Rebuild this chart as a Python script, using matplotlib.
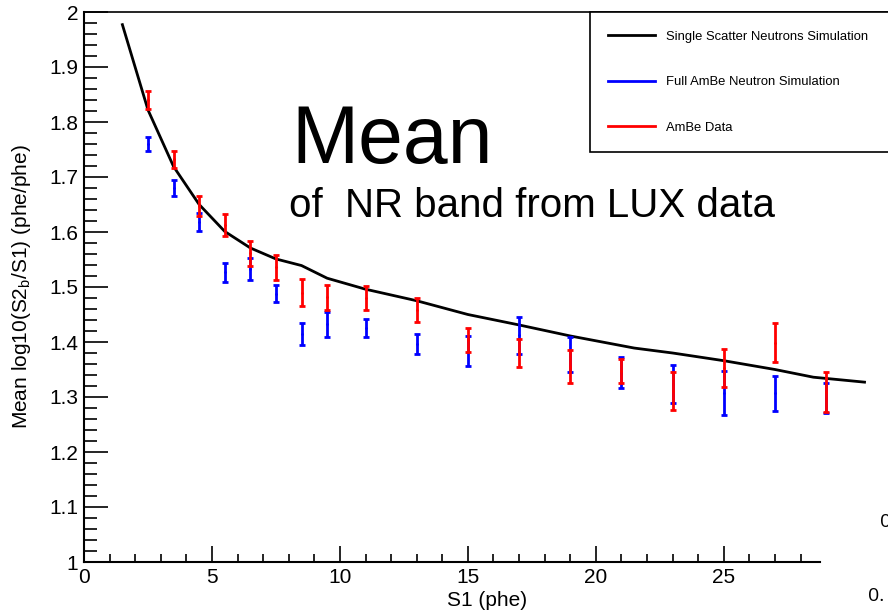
import matplotlib
matplotlib.use('Agg')
import matplotlib.pyplot as plt
from matplotlib.lines import Line2D
from matplotlib.ticker import MultipleLocator
import numpy as np

# simulation curve (single scatter neutrons)
s1_sim = [1.5, 2.5, 3.5, 4.5, 5.5, 6.5, 7.5, 8.5, 9.5, 11, 13, 15, 17, 19, 21.5, 23, 25, 27, 28.5, 30.5]
mean_sim = [1.977, 1.822, 1.719, 1.650, 1.601, 1.571, 1.551, 1.539, 1.516, 1.496,
            1.475, 1.450, 1.431, 1.411, 1.389, 1.380, 1.366, 1.350, 1.336, 1.327]

# S1 bins for the points
s1_bins = [2.5, 3.5, 4.5, 5.5, 6.5, 7.5, 8.5, 9.5, 11, 13, 15, 17, 19, 21, 23, 25, 27, 29]

# full AmBe neutron simulation
mean_full = [1.760, 1.680, 1.618, 1.527, 1.532, 1.488, 1.415, 1.432, 1.426,
             1.397, 1.384, 1.412, 1.378, 1.344, 1.324, 1.308, 1.307, 1.298]
err_full = [0.013, 0.015, 0.017, 0.017, 0.020, 0.016, 0.020, 0.022, 0.016,
            0.018, 0.027, 0.033, 0.032, 0.028, 0.034, 0.040, 0.032, 0.027]

# AmBe data
mean_data = [1.840, 1.732, 1.648, 1.613, 1.561, 1.536, 1.490, 1.481, 1.480,
             1.458, 1.403, 1.380, 1.355, 1.347, 1.311, 1.353, 1.399, 1.309]
err_data = [0.017, 0.016, 0.018, 0.020, 0.022, 0.023, 0.025, 0.022, 0.022,
            0.022, 0.022, 0.025, 0.030, 0.022, 0.035, 0.035, 0.035, 0.037]

W, H = 888, 614
fig = plt.figure(figsize=(W / 100, H / 100), dpi=100)
ax = fig.add_axes([84 / W, 52 / H, 736 / W, 550 / H])

ax.plot(s1_sim, mean_sim, color='black', lw=2, clip_on=False, zorder=3)
ax.errorbar(s1_bins, mean_full, yerr=err_full, fmt='.', color='blue', ms=2,
            elinewidth=2, capsize=2.5, capthick=2, clip_on=False, zorder=4)
ax.errorbar(s1_bins, mean_data, yerr=err_data, fmt='.', color='red', ms=2,
            elinewidth=2, capsize=2.5, capthick=2, clip_on=False, zorder=5)

ax.set_xlim(0, 28.76)
ax.set_ylim(1, 2)
ax.xaxis.set_major_locator(MultipleLocator(5))
ax.xaxis.set_minor_locator(MultipleLocator(1))
ax.yaxis.set_major_locator(MultipleLocator(0.1))
ax.yaxis.set_minor_locator(MultipleLocator(0.02))
ax.set_yticks(np.arange(1, 2.01, 0.1))
ax.set_yticklabels(['1', '1.1', '1.2', '1.3', '1.4', '1.5', '1.6', '1.7', '1.8', '1.9', '2'])

ax.tick_params(axis='both', which='both', direction='in', labelsize=15, width=1.2,
               top=False, right=False)
ax.tick_params(axis='y', which='major', length=17, pad=4)
ax.tick_params(axis='y', which='minor', length=9)
ax.tick_params(axis='x', which='major', length=11.5, pad=4)
ax.tick_params(axis='x', which='minor', length=5.8)
for lab in ax.get_xticklabels() + ax.get_yticklabels():
    lab.set_fontfamily('Liberation Sans')

ax.spines['right'].set_visible(False)
ax.spines['top'].set_visible(False)
ax.spines['left'].set_linewidth(1.5)
ax.spines['bottom'].set_linewidth(1.5)

# top frame line runs to the edge of the picture
fig.add_artist(Line2D([84 / W, 1.0], [1 - 12.3 / H, 1 - 12.3 / H], color='black', lw=1.2))

fig.text(22 / W, 1 - 287 / H, 'Mean log10(S2$_\\mathregular{b}$/S1) (phe/phe)', rotation=90,
         ha='center', va='center', fontsize=15, family='Liberation Sans')
fig.text(487 / W, 1 - 600 / H, 'S1 (phe)', ha='center', va='center', fontsize=15,
         family='Liberation Sans')

fig.text(291 / W, 1 - 163.3 / H, 'Mean', fontsize=58, family='Liberation Sans', va='baseline')
fig.text(289 / W, 1 - 216.7 / H, 'of  NR band from LUX data', fontsize=29,
         family='Liberation Sans', va='baseline')

# bits of the neighbouring pad
fig.text(880 / W, 1 - 527 / H, '0', fontsize=14, family='Open Sans', va='baseline')
fig.text(868 / W, 1 - 601 / H, '0.', fontsize=14, family='Open Sans', va='baseline')

handles = [Line2D([], [], color='black', lw=2),
           Line2D([], [], color='blue', lw=2),
           Line2D([], [], color='red', lw=2)]
labels = ['Single Scatter Neutrons Simulation', 'Full AmBe Neutron Simulation', 'AmBe Data']
leg = fig.legend(handles, labels, loc='upper left', mode='expand',
                 bbox_to_anchor=(590 / W, 0, 400 / W, 1 - 12.3 / H),
                 bbox_transform=fig.transFigure, borderaxespad=0,
                 prop={'family': 'Liberation Sans', 'size': 9.4},
                 handlelength=3.6, handletextpad=0.8, labelspacing=2.55,
                 borderpad=1.4, fancybox=False, framealpha=1)
leg.get_frame().set_edgecolor('black')
leg.get_frame().set_linewidth(1.2)

fig.savefig('out.png', dpi=100)
